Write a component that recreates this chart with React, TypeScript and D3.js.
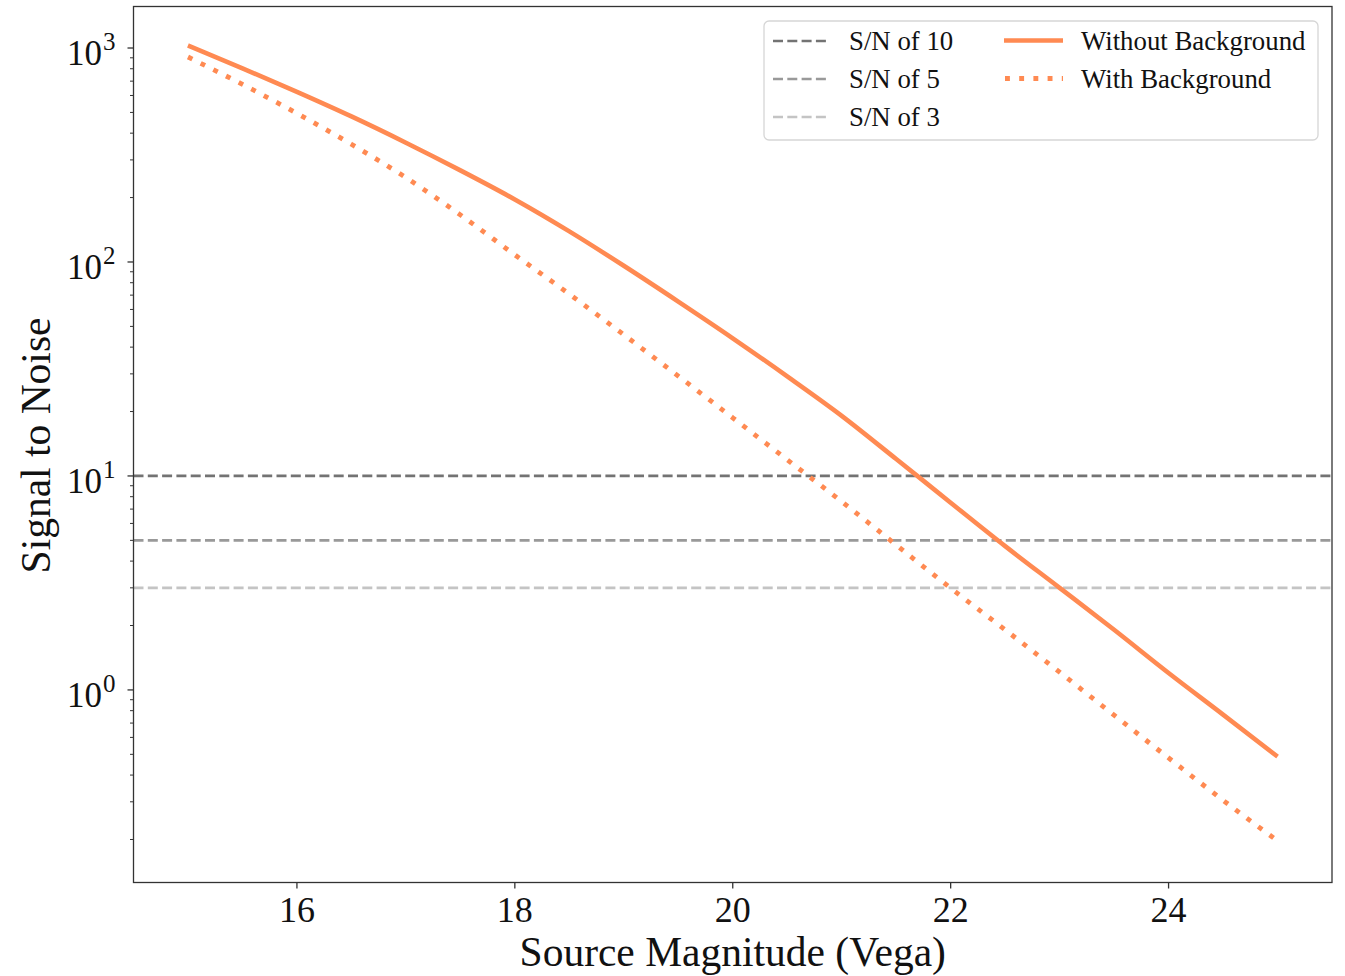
import React from "react";
import * as d3 from "d3";

// Source magnitudes (Vega)
const magnitudes = [15, 15.5, 16, 16.5, 17, 17.5, 18, 18.5, 19, 19.5, 20, 20.5, 21, 21.5, 22, 22.5, 23, 23.5, 24, 24.5, 25];
// Signal to noise without background
const snNoBackground = [1028, 804, 624, 479, 361, 268, 196, 139, 96.0, 65.3, 44.0, 29.2, 19.1, 12.0, 7.5, 4.7, 3.0, 1.91, 1.2, 0.767, 0.488];
// Signal to noise with background
const snWithBackground = [908, 676, 495, 355, 248, 166, 108, 70.8, 45.7, 29.3, 18.7, 11.9, 7.59, 4.76, 2.99, 1.91, 1.21, 0.762, 0.481, 0.305, 0.197];

const thresholds = [10, 5, 3];
const thresholdLabels = ["S/N of 10", "S/N of 5", "S/N of 3"];
const thresholdColors = ["#737373", "#999999", "#c4c4c4"];

const xTicks = [16, 18, 20, 22, 24];
const yTicks = [1, 10, 100, 1000];
const yTickExp = ["0", "1", "2", "3"];

const ORANGE = "#ff8a52";
const FONT = "'Liberation Serif', 'DejaVu Serif', serif";

export default function App() {
  const W = 1345, H = 976;
  const L = 133.5, R = 1332, T = 6.5, B = 882.5;
  const x = d3.scaleLinear().domain([14.5, 25.5]).range([L, R]);
  const y = d3.scaleLog().domain([Math.pow(10, -0.9), Math.pow(10, 3.194)]).range([B, T]);

  const line = d3
    .line<number>()
    .x((_, i) => x(magnitudes[i]))
    .y((d) => y(d))
    .curve(d3.curveMonotoneX);

  const minorTicks: number[] = [];
  for (let e = -1; e <= 3; e++) {
    for (let k = 2; k <= 9; k++) {
      const v = k * Math.pow(10, e);
      if (v > y.domain()[0] && v < y.domain()[1]) minorTicks.push(v);
    }
  }

  const legendRows = [41, 79, 117];

  return (
    <svg width={W} height={H} style={{ position: "absolute", left: 0, top: 0 }} fontFamily={FONT}>
      <rect x={0} y={0} width={W} height={H} fill="#fff" />
      <defs>
        <clipPath id="plotclip">
          <rect x={L} y={T} width={R - L} height={B - T} />
        </clipPath>
      </defs>
      <g clipPath="url(#plotclip)">
        {thresholds.map((t, i) => (
          <line
            key={t}
            x1={L}
            x2={R}
            y1={y(t)}
            y2={y(t)}
            stroke={thresholdColors[i]}
            strokeWidth={2.7}
            strokeDasharray="10 4.3"
          />
        ))}
        <path d={line(snNoBackground) || ""} fill="none" stroke={ORANGE} strokeWidth={4.6} />
        <path
          d={line(snWithBackground) || ""}
          fill="none"
          stroke={ORANGE}
          strokeWidth={4.8}
          strokeDasharray="4.9 9.3"
        />
      </g>
      {/* frame */}
      <rect x={L} y={T} width={R - L} height={B - T} fill="none" stroke="#333" strokeWidth={1.3} />
      {/* x ticks */}
      {xTicks.map((t) => (
        <g key={t}>
          <line x1={x(t)} x2={x(t)} y1={B} y2={B + 6} stroke="#333" strokeWidth={1.3} />
          <text x={x(t)} y={922} textAnchor="middle" fontSize={36} fill="#111">
            {t}
          </text>
        </g>
      ))}
      {/* y ticks */}
      {yTicks.map((t, i) => (
        <g key={t}>
          <line x1={L - 6} x2={L} y1={y(t)} y2={y(t)} stroke="#333" strokeWidth={1.3} />
          <text x={102} y={y(t) + 17} textAnchor="end" fontSize={35} fill="#111">
            10
          </text>
          <text x={103} y={y(t) + 2} textAnchor="start" fontSize={25} fill="#111">
            {yTickExp[i]}
          </text>
        </g>
      ))}
      {minorTicks.map((t) => (
        <line key={t} x1={L - 3.5} x2={L} y1={y(t)} y2={y(t)} stroke="#333" strokeWidth={1} />
      ))}
      {/* axis labels */}
      <text x={(L + R) / 2} y={966} textAnchor="middle" fontSize={41.5} fill="#111">
        Source Magnitude (Vega)
      </text>
      <text
        transform={`translate(50,${(T + B) / 2 + 1}) rotate(-90)`}
        textAnchor="middle"
        fontSize={41.5}
        fill="#111"
      >
        Signal to Noise
      </text>
      {/* legend */}
      <rect x={764} y={21} width={554} height={119} rx={5} fill="#fff" fillOpacity={0.8} stroke="#d6d6d6" strokeWidth={1.3} />
      {thresholds.map((t, i) => (
        <g key={"lg" + t}>
          <line
            x1={773}
            x2={829}
            y1={legendRows[i]}
            y2={legendRows[i]}
            stroke={thresholdColors[i]}
            strokeWidth={2.7}
            strokeDasharray="10 4.3"
          />
          <text x={849} y={legendRows[i] + 9} fontSize={26.8} fill="#111">
            {thresholdLabels[i]}
          </text>
        </g>
      ))}
      <line x1={1004} x2={1063} y1={40.5} y2={40.5} stroke={ORANGE} strokeWidth={4.6} />
      <text x={1081} y={50} fontSize={26.8} fill="#111">
        Without Background
      </text>
      <line x1={1005} x2={1063} y1={78.5} y2={78.5} stroke={ORANGE} strokeWidth={4.8} strokeDasharray="4.9 9.3" />
      <text x={1081} y={88} fontSize={26.8} fill="#111">
        With Background
      </text>
    </svg>
  );
}
